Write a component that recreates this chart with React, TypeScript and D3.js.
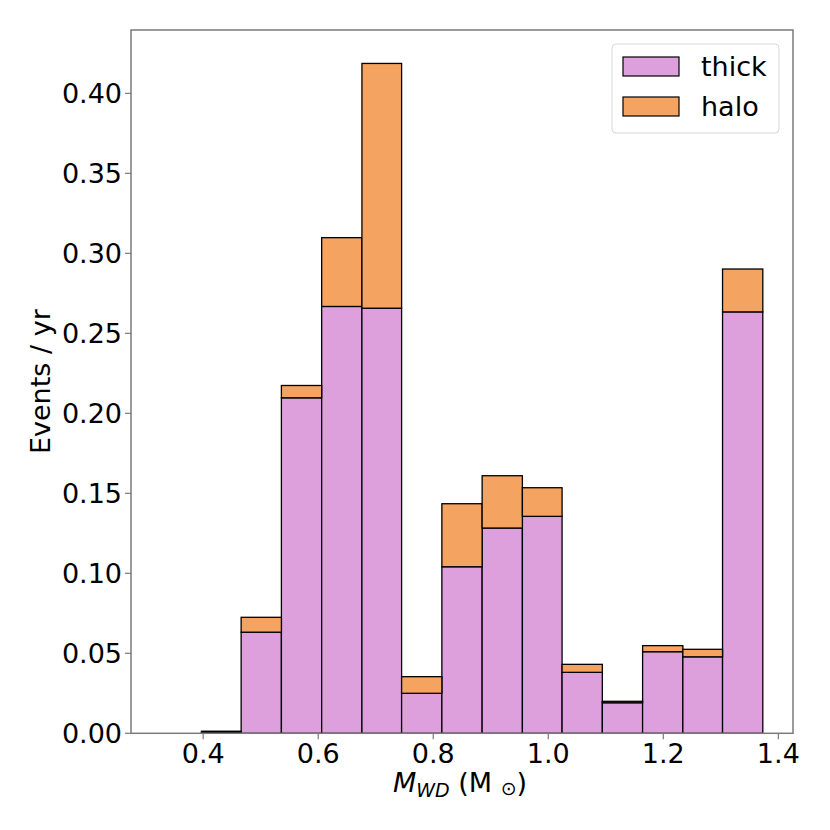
import * as d3 from 'd3'

// bin edges of the white-dwarf mass histogram (Msun)
const binEdges = [0.327, 0.397, 0.466, 0.536, 0.606, 0.676, 0.745, 0.815, 0.885, 0.955, 1.024, 1.094, 1.164, 1.234, 1.303, 1.373]
// events / yr per bin
const thickValues = [0, 0.0006, 0.0632, 0.2097, 0.2668, 0.2657, 0.0250, 0.1041, 0.1283, 0.1356, 0.0381, 0.0191, 0.0510, 0.0478, 0.2634]
const haloValues = [0, 0.0007, 0.0093, 0.0077, 0.0430, 0.1530, 0.0104, 0.0394, 0.0327, 0.0179, 0.0050, 0.0009, 0.0038, 0.0047, 0.0268]
const xTicks = [0.4, 0.6, 0.8, 1.0, 1.2, 1.4]
const yTicks = [0, 0.05, 0.1, 0.15, 0.2, 0.25, 0.3, 0.35, 0.4]
const seriesNames = ['thick', 'halo']
const seriesColors = ['#DDA0DD', '#F4A460']

const W = 830
const H = 830
const plot = { left: 131, right: 793, top: 30, bottom: 733.3 }
const FONT = "'DejaVu Sans', sans-serif"
const FS = 27

export default function App() {
  const x = d3.scaleLinear().domain([0.2745, 1.4255]).range([plot.left, plot.right])
  const y = d3.scaleLinear().domain([0, 0.4396]).range([plot.bottom, plot.top])

  const bins = thickValues.map((t, i) => ({
    x0: binEdges[i],
    x1: binEdges[i + 1],
    thick: t,
    halo: haloValues[i],
  }))

  const stack = d3.stack<typeof bins[number]>().keys(['thick', 'halo'])(bins)

  const legendX = 612
  const legendY = 44

  return (
    <div style={{ position: 'absolute', left: 0, top: 0 }}>
      <svg width={W} height={H} style={{ display: 'block', background: '#fff' }}>
        {/* stacked bars */}
        {stack.map((layer, li) => (
          <g key={li}>
            {layer.map((d, i) => {
              const b = bins[i]
              const h = y(d[0]) - y(d[1])
              if (h <= 0) return null
              return (
                <rect
                  key={i}
                  x={x(b.x0)}
                  y={y(d[1])}
                  width={x(b.x1) - x(b.x0)}
                  height={h}
                  fill={seriesColors[li]}
                  stroke="#000"
                  strokeWidth={1.3}
                />
              )
            })}
          </g>
        ))}

        {/* frame */}
        <rect
          x={plot.left}
          y={plot.top}
          width={plot.right - plot.left}
          height={plot.bottom - plot.top}
          fill="none"
          stroke="#7a7a7a"
          strokeWidth={1.5}
        />

        {/* x ticks */}
        {xTicks.map(t => (
          <g key={t} transform={`translate(${x(t)},${plot.bottom})`}>
            <line y2={6} stroke="#7a7a7a" strokeWidth={1.2} />
            <text y={29.5} textAnchor="middle" fontFamily={FONT} fontSize={FS} fill="#000">
              {d3.format('.1f')(t)}
            </text>
          </g>
        ))}

        {/* y ticks */}
        {yTicks.map(t => (
          <g key={t} transform={`translate(${plot.left},${y(t)})`}>
            <line x2={-6} stroke="#7a7a7a" strokeWidth={1.2} />
            <text x={-9} dy="0.36em" textAnchor="end" fontFamily={FONT} fontSize={FS} fill="#000">
              {d3.format('.2f')(t)}
            </text>
          </g>
        ))}

        {/* axis labels */}
        <text x={460} y={792} textAnchor="middle" fontFamily={FONT} fontSize={FS} fill="#000">
          <tspan fontStyle="italic">M</tspan>
          <tspan fontStyle="italic" fontSize={19} dy={5}>WD</tspan>
          <tspan dy={-5}> (M </tspan>
          <tspan fontSize={19} dy={3}>⊙</tspan>
          <tspan dy={-3}>)</tspan>
        </text>
        <text
          transform={`translate(50,${(plot.top + plot.bottom) / 2}) rotate(-90)`}
          textAnchor="middle"
          fontFamily={FONT}
          fontSize={FS}
          fill="#000"
        >
          Events / yr
        </text>

        {/* legend */}
        <rect x={legendX} y={legendY} width={167} height={89} rx={4} fill="#fff" fillOpacity={0.8} stroke="#d6d6d6" strokeWidth={1} />
        {seriesNames.map((name, i) => (
          <g key={name} transform={`translate(${legendX + 11},${legendY + 13 + i * 40})`}>
            <rect width={56} height={19} fill={seriesColors[i]} stroke="#000" strokeWidth={1.2} />
            <text x={78} y={19} fontFamily={FONT} fontSize={FS} fill="#000">{name}</text>
          </g>
        ))}
      </svg>
    </div>
  )
}
